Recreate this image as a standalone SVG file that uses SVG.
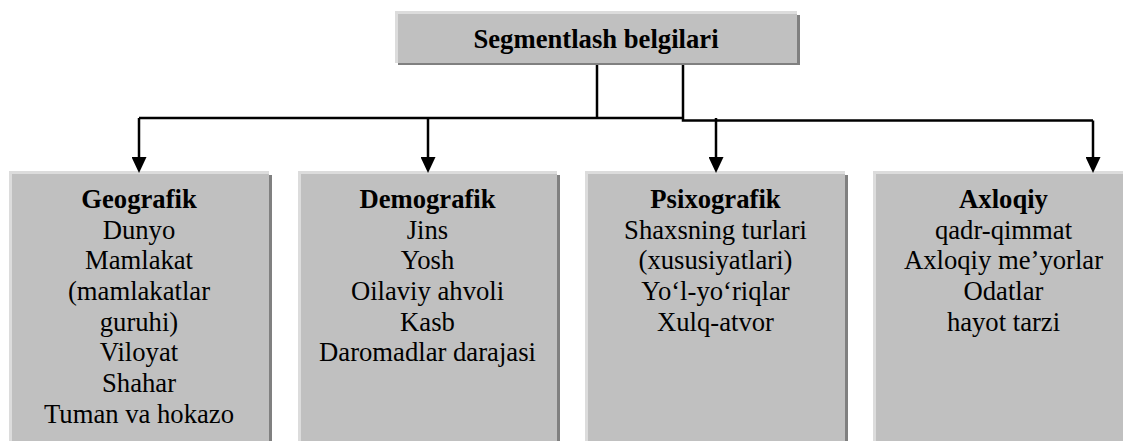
<svg xmlns="http://www.w3.org/2000/svg" width="1123" height="441" viewBox="0 0 1123 441">
  <style>
    .shadow { fill: #808080; }
    .body { fill: #c0c0c0; }
    .hl { fill: #dcdcdc; }
    .t { font-family: 'Liberation Serif', 'Times New Roman', Times, serif; font-size: 26.67px; fill: #000; text-anchor: middle; }
    .b { font-weight: bold; }
    .conn { fill: none; stroke: #000; stroke-width: 2.5; }
  </style>
  <defs>
    <marker id="arr" viewBox="0 0 16 15" refX="8" refY="7.5" markerWidth="16" markerHeight="15" markerUnits="userSpaceOnUse" orient="auto">
      <path d="M0,0 L16,7.5 L0,15 z" fill="#000"/>
    </marker>
  </defs>

  <g id="root">
    <rect class="shadow" x="398" y="15" width="402" height="50"/>
    <rect class="body" x="395" y="12" width="402" height="51"/>
    <rect class="hl" x="395" y="11" width="402" height="3"/>
    <rect class="hl" x="395" y="11" width="3" height="52"/>
    <text class="t b" font-family="Liberation Serif, serif" x="596" y="48">Segmentlash belgilari</text>
  </g>

  <g id="geografik" font-family="Liberation Serif, serif">
    <rect class="shadow" x="12" y="175" width="260" height="270"/>
    <rect class="body" x="9" y="172" width="260" height="270"/>
    <rect class="hl" x="9" y="171" width="260" height="3"/>
    <rect class="hl" x="9" y="171" width="3" height="270"/>
    <text class="t b" x="139" y="208">Geografik</text>
    <text class="t" x="139" y="238.7">Dunyo</text>
    <text class="t" x="139" y="269.3">Mamlakat</text>
    <text class="t" x="139" y="300">(mamlakatlar</text>
    <text class="t" x="139" y="330.7">guruhi)</text>
    <text class="t" x="139" y="361.3">Viloyat</text>
    <text class="t" x="139" y="392">Shahar</text>
    <text class="t" x="139" y="422.7">Tuman va hokazo</text>
  </g>

  <g id="demografik" font-family="Liberation Serif, serif">
    <rect class="shadow" x="301" y="175" width="259" height="270"/>
    <rect class="body" x="298" y="172" width="259" height="270"/>
    <rect class="hl" x="298" y="171" width="259" height="3"/>
    <rect class="hl" x="298" y="171" width="3" height="270"/>
    <text class="t b" x="427.5" y="208">Demografik</text>
    <text class="t" x="427.5" y="238.7">Jins</text>
    <text class="t" x="427.5" y="269.3">Yosh</text>
    <text class="t" x="427.5" y="300">Oilaviy ahvoli</text>
    <text class="t" x="427.5" y="330.7">Kasb</text>
    <text class="t" x="427.5" y="361.3">Daromadlar darajasi</text>
  </g>

  <g id="psixografik" font-family="Liberation Serif, serif">
    <rect class="shadow" x="588" y="175" width="260" height="270"/>
    <rect class="body" x="585" y="172" width="260" height="270"/>
    <rect class="hl" x="585" y="171" width="260" height="3"/>
    <rect class="hl" x="585" y="171" width="3" height="270"/>
    <text class="t b" x="715.5" y="208">Psixografik</text>
    <text class="t" x="715.5" y="238.7">Shaxsning turlari</text>
    <text class="t" x="715.5" y="269.3">(xususiyatlari)</text>
    <text class="t" x="715.5" y="300">Yo‘l-yo‘riqlar</text>
    <text class="t" x="715.5" y="330.7">Xulq-atvor</text>
  </g>

  <g id="axloqiy" font-family="Liberation Serif, serif">
    <rect class="shadow" x="876" y="175" width="260" height="270"/>
    <rect class="body" x="873" y="172" width="260" height="270"/>
    <rect class="hl" x="873" y="171" width="260" height="3"/>
    <rect class="hl" x="873" y="171" width="3" height="270"/>
    <text class="t b" x="1003.5" y="208">Axloqiy</text>
    <text class="t" x="1003.5" y="238.7">qadr-qimmat</text>
    <text class="t" x="1003.5" y="269.3">Axloqiy me’yorlar</text>
    <text class="t" x="1003.5" y="300">Odatlar</text>
    <text class="t" x="1003.5" y="330.7">hayot tarzi</text>
  </g>

  <g id="connectors">
    <path class="conn" d="M597,65 V118"/>
    <path class="conn" d="M139,118 H684"/>
    <path class="conn" d="M683,65 V120.5 H1093"/>
    <path class="conn" d="M139,118 V165" marker-end="url(#arr)"/>
    <path class="conn" d="M428,118 V165" marker-end="url(#arr)"/>
    <path class="conn" d="M716,118 V165" marker-end="url(#arr)"/>
    <path class="conn" d="M1093,120.5 V165" marker-end="url(#arr)"/>
  </g>
</svg>
